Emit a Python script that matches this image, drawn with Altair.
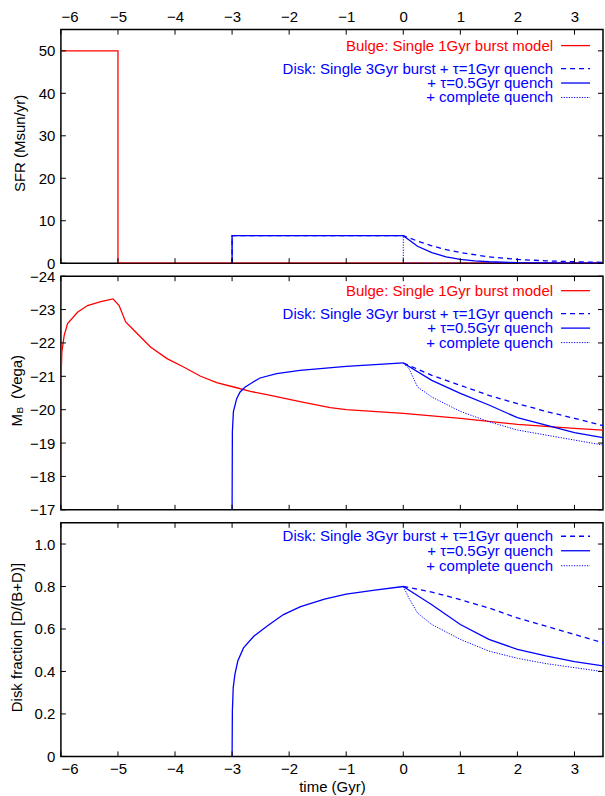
import altair as alt
import pandas as pd

FONT = "Liberation Sans"
RED = "#ff0000"
BLUE = "#0000ff"

# ---------------- data ----------------
x_ticks = [-6, -5, -4, -3, -2, -1, 0, 1, 2, 3]

# Panel 1: SFR
sfr_ticks = [0, 10, 20, 30, 40, 50]
sfr_bulge_t = [-6, -5, -5, 3.5]
sfr_bulge_v = [50, 50, 0, 0]
sfr_tau1_t = [-3, -3, 0, 0.25, 0.5, 0.75, 1, 1.5, 2, 2.5, 3, 3.5]
sfr_tau1_v = [0, 6.5, 6.5, 5.2, 4.1, 3.2, 2.5, 1.5, 0.9, 0.55, 0.35, 0.2]
sfr_tau05_t = [-3, -3, 0, 0.25, 0.5, 0.75, 1, 1.25, 1.5, 2, 2.5, 3, 3.5]
sfr_tau05_v = [0, 6.5, 6.5, 4.0, 2.5, 1.5, 0.9, 0.55, 0.35, 0.12, 0.05, 0.02, 0.01]
sfr_comp_t = [-3, -3, 0, 0, 3.5]
sfr_comp_v = [0, 6.5, 6.5, 0, 0]

# Panel 2: M_B
mb_ticks = [-24, -23, -22, -21, -20, -19, -18, -17]
mb_bulge_t = [-6, -6, -5.983, -5.942, -5.883, -5.709, -5.534, -5.301, -5.086, -4.98,
              -4.865, -4.72, -4.43, -4.14, -3.85, -3.56, -3.27, -2.97, -2.68, -2.39,
              -1.81, -1.28, -1.0, 0, 1, 2, 3, 3.5]
mb_bulge_v = [-17.0, -20.83, -21.73, -22.23, -22.58, -22.92, -23.12, -23.24, -23.32, -23.12,
              -22.63, -22.38, -21.88, -21.53, -21.28, -21.01, -20.81, -20.68, -20.55, -20.45,
              -20.24, -20.06, -20.0, -19.89, -19.74, -19.56, -19.44, -19.39]
mb_disk_t = [-3.0, -2.995, -2.977, -2.92, -2.86, -2.77, -2.63, -2.51, -2.22, -1.81, -1.0, -0.5, 0]
mb_disk_v = [-17.0, -19.34, -19.94, -20.33, -20.53, -20.68, -20.83, -20.95, -21.08, -21.18, -21.30, -21.35, -21.40]
mb_tau1_t = [0, 0.5, 1, 1.5, 2, 2.5, 3, 3.5]
mb_tau1_v = [-21.40, -21.03, -20.73, -20.43, -20.18, -19.95, -19.74, -19.52]
mb_tau05_t = [0, 0.5, 1, 1.5, 2, 2.5, 3, 3.5]
mb_tau05_v = [-21.40, -20.88, -20.49, -20.14, -19.76, -19.54, -19.31, -19.16]
mb_comp_t = [0, 0.1, 0.25, 0.5, 1, 1.5, 2, 2.5, 3, 3.5]
mb_comp_v = [-21.40, -21.23, -20.68, -20.38, -19.95, -19.64, -19.39, -19.24, -19.09, -18.94]

# Panel 3: disk fraction
df_ticks = [0, 0.2, 0.4, 0.6, 0.8, 1.0]
df_disk_t = [-3.0, -2.995, -2.98, -2.95, -2.9, -2.8, -2.62, -2.39, -2.1, -1.8, -1.38, -1.0, -0.5, 0]
df_disk_v = [0.0, 0.215, 0.324, 0.387, 0.449, 0.511, 0.566, 0.613, 0.668, 0.705, 0.741, 0.764, 0.783, 0.800]
df_tau1_t = [0, 0.5, 1, 1.5, 2, 2.5, 3, 3.5]
df_tau1_v = [0.800, 0.774, 0.738, 0.699, 0.652, 0.613, 0.574, 0.535]
df_tau05_t = [0, 0.5, 1, 1.5, 2, 2.5, 3, 3.5]
df_tau05_v = [0.800, 0.714, 0.621, 0.551, 0.504, 0.473, 0.446, 0.426]
df_comp_t = [0, 0.1, 0.25, 0.5, 1, 1.5, 2, 2.5, 3, 3.5]
df_comp_v = [0.800, 0.745, 0.675, 0.621, 0.551, 0.496, 0.462, 0.437, 0.418, 0.399]

lab_bulge = "Bulge: Single 1Gyr burst model"
lab_tau1 = "Disk: Single 3Gyr burst + τ=1Gyr quench"
lab_tau05 = "+ τ=0.5Gyr quench"
lab_comp = "+ complete quench"

# ---------------- layout ----------------
W, H = 543, 234
XS = alt.Scale(domain=[-6, 3.5], nice=False, zero=False)
DASH = [5, 4]
DOT = [1.2, 1.4]
TICK = 5


def line(ts, vs, color, xe, ye, dash=None, width=1.3):
    kw = dict(color=color, strokeWidth=width, clip=True)
    if dash is not None:
        kw["strokeDash"] = dash
    return alt.Chart(pd.DataFrame({"t": ts, "v": vs})).mark_line(**kw).encode(x=xe, y=ye)


def ticks(xe, ye, yvals):
    xd = pd.DataFrame({"t": x_ticks})
    yd = pd.DataFrame({"v": yvals})
    base = dict(color="black", strokeWidth=1)
    return [
        alt.Chart(xd).mark_rule(**base).encode(x=xe, y=alt.value(H), y2=alt.value(H - TICK)),
        alt.Chart(xd).mark_rule(**base).encode(x=xe, y=alt.value(0), y2=alt.value(TICK)),
        alt.Chart(yd).mark_rule(**base).encode(y=ye, x=alt.value(0), x2=alt.value(TICK)),
        alt.Chart(yd).mark_rule(**base).encode(y=ye, x=alt.value(W), x2=alt.value(W - TICK)),
    ]


def one():
    return alt.Data(values=[{}])


def text(label, x, y, color, size=15, align="right", angle=None):
    kw = dict(text=label, align=align, baseline="middle", fontSize=size, font=FONT, color=color)
    if angle is not None:
        kw["angle"] = angle
    return alt.Chart(one()).mark_text(**kw).encode(x=alt.value(x), y=alt.value(y))


def legend_row(label, y, color, dash=None, width=1.3):
    kw = dict(color=color, strokeWidth=width)
    if dash is not None:
        kw["strokeDash"] = dash
    return [
        text(label, 493, y, color),
        alt.Chart(one()).mark_rule(**kw).encode(x=alt.value(501), x2=alt.value(530), y=alt.value(y)),
    ]


def yaxis(vals, **extra):
    return alt.Axis(values=vals, ticks=False, domain=False, grid=False, labelPadding=6,
                    title=None, **extra)


# ---- panel 1 ----
x1 = alt.X("t:Q", scale=XS, axis=alt.Axis(orient="top", values=x_ticks, ticks=False, domain=False,
                                           grid=False, labelPadding=5, title=None, format="d"))
y1 = alt.Y("v:Q", scale=alt.Scale(domain=[0, 55], nice=False, zero=False), axis=yaxis(sfr_ticks, format="d"))
p1_layers = [
    line(sfr_bulge_t, sfr_bulge_v, RED, x1, y1),
    line(sfr_tau1_t, sfr_tau1_v, BLUE, x1, y1, DASH),
    line(sfr_tau05_t, sfr_tau05_v, BLUE, x1, y1),
    line(sfr_comp_t, sfr_comp_v, BLUE, x1, y1, DOT, 1),
] + ticks(x1, y1, sfr_ticks) + legend_row(lab_bulge, 16, RED) + legend_row(lab_tau1, 39, BLUE, DASH) \
    + legend_row(lab_tau05, 53.5, BLUE) + legend_row(lab_comp, 68, BLUE, DOT, 1) + [
    text("SFR  (Msun/yr)", -41, 114, "black", align="center", angle=270),
    alt.Chart(one()).mark_rule(color="white", strokeWidth=1).encode(
        x=alt.value(-59.5), x2=alt.value(-58.5), y=alt.value(-27.2)),
]
p1 = alt.layer(*p1_layers).properties(width=W, height=H)

# ---- panel 2 ----
x2 = alt.X("t:Q", scale=XS, axis=None)
y2 = alt.Y("v:Q", scale=alt.Scale(domain=[-24, -17], nice=False, zero=False, reverse=True),
           axis=yaxis(mb_ticks, format="d"))
p2_layers = [
    line(mb_bulge_t, mb_bulge_v, RED, x2, y2),
    line(mb_disk_t, mb_disk_v, BLUE, x2, y2),
    line(mb_tau1_t, mb_tau1_v, BLUE, x2, y2, DASH),
    line(mb_tau05_t, mb_tau05_v, BLUE, x2, y2),
    line(mb_comp_t, mb_comp_v, BLUE, x2, y2, DOT, 1),
] + ticks(x2, y2, mb_ticks) + legend_row(lab_bulge, 14.5, RED) + legend_row(lab_tau1, 37.5, BLUE, DASH) \
    + legend_row(lab_tau05, 52, BLUE) + legend_row(lab_comp, 66.5, BLUE, DOT, 1) + [
    text("M", -44, 150.5, "black", align="left", angle=270),
    text("B", -41, 137.5, "black", size=10, align="left", angle=270),
    text("(Vega)", -44, 123, "black", align="left", angle=270),
]
p2 = alt.layer(*p2_layers).properties(width=W, height=H)

# ---- panel 3 ----
x3 = alt.X("t:Q", scale=XS, axis=alt.Axis(values=x_ticks, ticks=False, domain=False, grid=False,
                                           labelPadding=5, format="d", title="time (Gyr)",
                                           titlePadding=3))
y3 = alt.Y("v:Q", scale=alt.Scale(domain=[0, 1.1], nice=False, zero=False),
           axis=yaxis(df_ticks, labelExpr="datum.value == 0 ? '0' : format(datum.value, '.1f')"))
p3_layers = [
    line(df_disk_t, df_disk_v, BLUE, x3, y3),
    line(df_tau1_t, df_tau1_v, BLUE, x3, y3, DASH),
    line(df_tau05_t, df_tau05_v, BLUE, x3, y3),
    line(df_comp_t, df_comp_v, BLUE, x3, y3, DOT, 1),
] + ticks(x3, y3, df_ticks) + legend_row(lab_tau1, 13.5, BLUE, DASH) \
    + legend_row(lab_tau05, 28, BLUE) + legend_row(lab_comp, 43, BLUE, DOT, 1) + [
    text("Disk fraction  [D/(B+D)]", -44, 115, "black", align="center", angle=270),
]
p3 = alt.layer(*p3_layers).properties(width=W, height=H)

chart = alt.vconcat(p1, p2, p3, spacing=13, bounds="flush").properties(padding=0).configure_view(
    stroke="black", strokeWidth=1.5
).configure_axis(
    labelFont=FONT, labelFontSize=15, labelColor="black",
    titleFont=FONT, titleFontSize=15, titleColor="black", titleFontWeight="normal",
)

chart.save("out.html", embed_options={"renderer": "svg", "actions": False})
